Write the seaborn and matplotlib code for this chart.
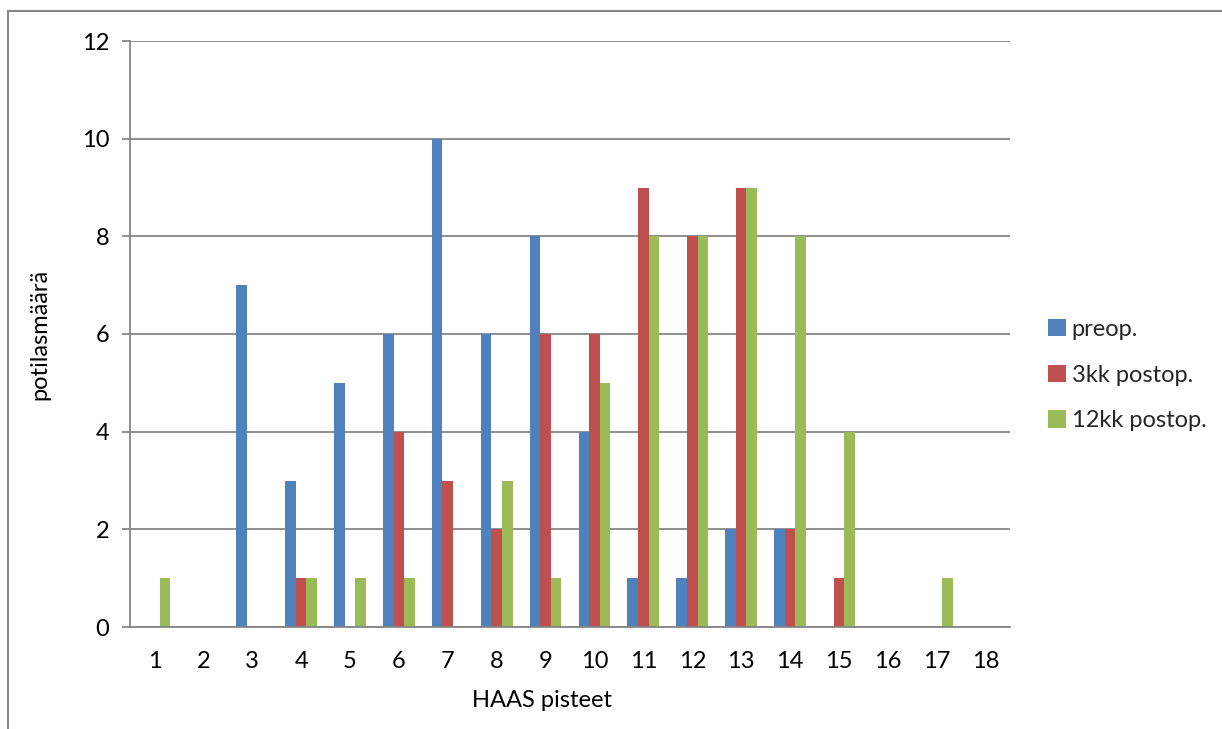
import matplotlib
matplotlib.use("Agg")
import matplotlib.pyplot as plt
from matplotlib.lines import Line2D
from matplotlib.patches import Patch
import seaborn as sns
import pandas as pd

# HAAS score categories
scores = list(range(1, 19))
series_names = ["preop.", "3kk postop.", "12kk postop."]

# patient counts per HAAS score
preop = [0, 0, 7, 3, 5, 6, 10, 6, 8, 4, 1, 1, 2, 2, 0, 0, 0, 0]
postop_3kk = [0, 0, 0, 1, 0, 4, 3, 2, 6, 6, 9, 8, 9, 2, 1, 0, 0, 0]
postop_12kk = [1, 0, 0, 1, 1, 1, 0, 3, 1, 5, 8, 8, 9, 8, 4, 0, 1, 0]

colors = ["#4F81BD", "#C0504D", "#9BBB59"]
grid_col = "#868686"
fs = 17

rows = []
for name, vals in zip(series_names, [preop, postop_3kk, postop_12kk]):
    for s, v in zip(scores, vals):
        rows.append({"HAAS": str(s), "count": v, "series": name})
df = pd.DataFrame(rows)

sns.set_theme(style="white")
plt.rcParams["font.family"] = ["Lato", "DejaVu Sans"]

fig = plt.figure(figsize=(12.22, 7.29), dpi=100)
ax = fig.add_axes([130 / 1222, 1 - 627 / 729, 880 / 1222, 586 / 729])

sns.barplot(data=df, x="HAAS", y="count", hue="series", order=[str(s) for s in scores],
            hue_order=series_names, palette=colors, saturation=1, width=0.65,
            linewidth=0, edgecolor="none", ax=ax, legend=False, zorder=3)

ax.set_xlim(-0.5, len(scores) - 0.5)
ax.set_ylim(0, 12)
ax.set_yticks(range(0, 13, 2))
ax.yaxis.grid(True, color=grid_col, linewidth=1.3, zorder=0)
ax.set_axisbelow(True)

for side in ["top", "right"]:
    ax.spines[side].set_visible(False)
for side in ["left", "bottom"]:
    ax.spines[side].set_color(grid_col)
    ax.spines[side].set_linewidth(1.3)
    ax.spines[side].set_zorder(4)

# tick marks at category boundaries, labels at centres
ax.set_xticks([i + 0.5 for i in range(-1, len(scores))], minor=False)
ax.set_xticklabels([])
ax.set_xticks(range(len(scores)), minor=True)
ax.set_xticklabels([str(s) for s in scores], minor=True)
ax.tick_params(axis="x", which="major", length=6, width=1.3, color=grid_col, direction="out")
ax.tick_params(axis="x", which="minor", length=0, pad=17, labelsize=fs, labelcolor="black")
ax.tick_params(axis="y", length=6, width=1.3, color=grid_col, direction="out",
               pad=9, labelsize=fs, labelcolor="black", left=True)

ax.set_xlabel("HAAS pisteet", fontsize=fs, color="black")
ax.xaxis.set_label_coords((542 - 130) / 880, -(690 - 627) / 586)
ax.set_ylabel("potilasmäärä", fontsize=fs, color="black")
ax.yaxis.set_label_coords(-(130 - 50) / 880, 0.5)

handles = [Patch(facecolor=c, edgecolor="none") for c in colors]
fig.legend(handles, series_names, loc="center left", bbox_to_anchor=(1048 / 1222, 1 - 375 / 729),
           frameon=False, fontsize=fs, handlelength=0.75, handleheight=0.75,
           handletextpad=0.25, labelspacing=1.05, borderpad=0, borderaxespad=0)

# chart area border
fig.add_artist(Line2D([8 / 1222, 8 / 1222], [0, 1 - 11 / 729], color=grid_col, lw=1.5,
                      transform=fig.transFigure))
fig.add_artist(Line2D([8 / 1222, 1], [1 - 11 / 729, 1 - 11 / 729], color=grid_col, lw=1.5,
                      transform=fig.transFigure))

fig.savefig("out.png", dpi=100)
